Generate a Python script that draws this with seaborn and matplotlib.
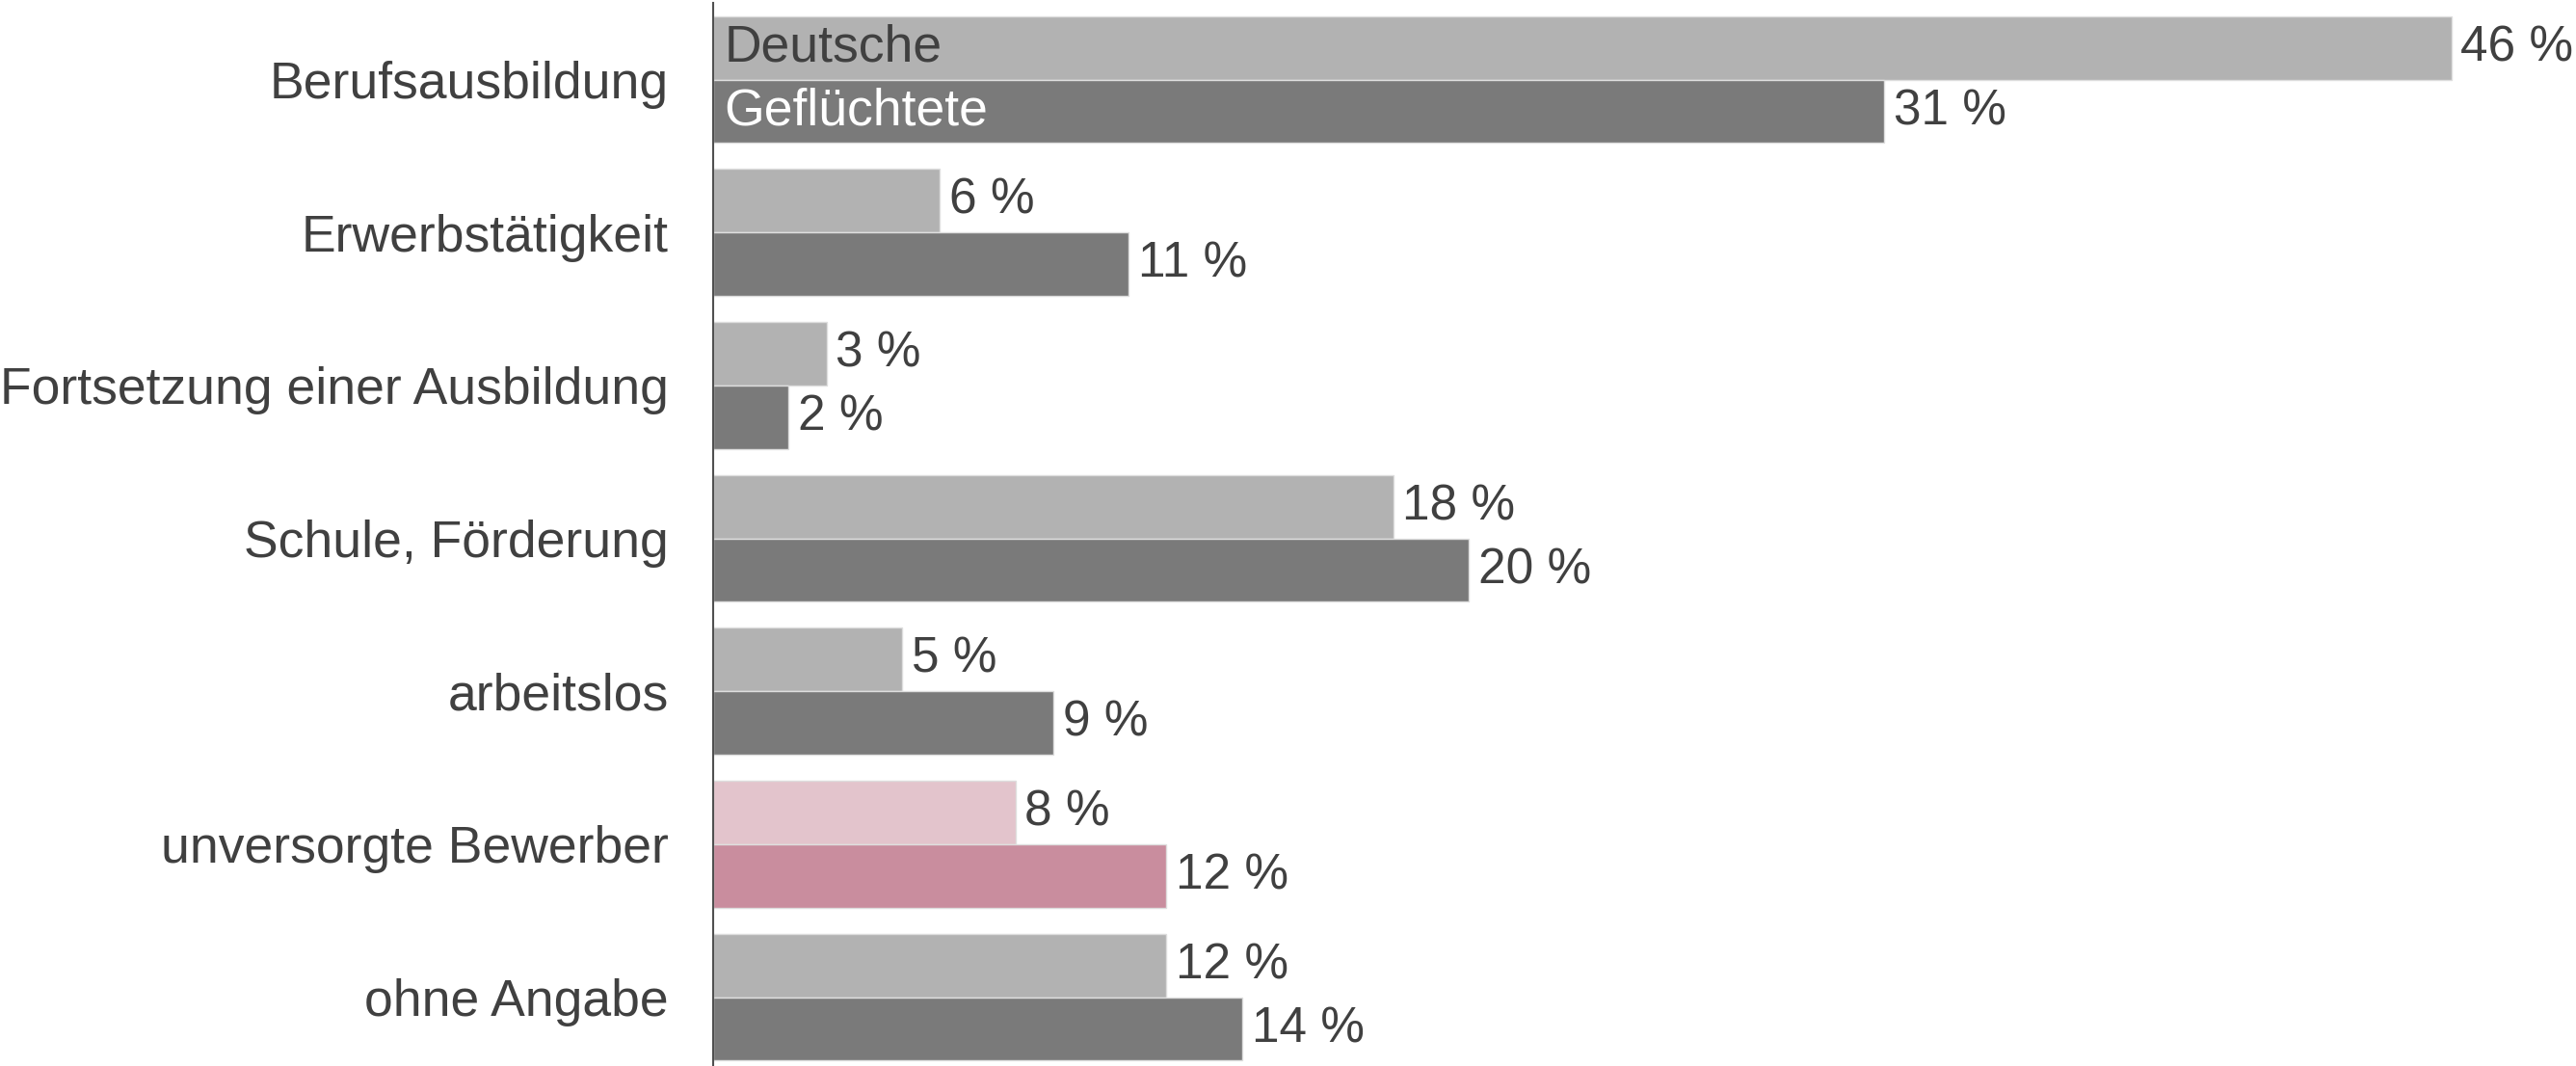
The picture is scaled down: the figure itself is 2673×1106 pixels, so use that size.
import pandas as pd
import matplotlib.pyplot as plt
import seaborn as sns

# Daten
kategorien = ['Berufsausbildung', 'Erwerbstätigkeit', 'Fortsetzung einer Ausbildung',
              'Schule, Förderung', 'arbeitslos', 'unversorgte Bewerber', 'ohne Angabe']
deutsche = [46, 6, 3, 18, 5, 8, 12]
gefluechtete = [31, 11, 2, 20, 9, 12, 14]
gruppen = ['Deutsche', 'Geflüchtete']

df = pd.DataFrame({
    'kategorie': kategorien * 2,
    'wert': deutsche + gefluechtete,
    'gruppe': [gruppen[0]] * len(kategorien) + [gruppen[1]] * len(kategorien),
})

textfarbe = '#404040'
fs = 38.5
fs_wert = 37
sns.set_theme(style='white')
plt.rcParams['font.family'] = ['Liberation Sans', 'DejaVu Sans']

fig = plt.figure(figsize=(26.73, 11.06), dpi=100)
ax = fig.add_axes([0.2768, 0.0, 0.7232, 0.997])

sns.barplot(data=df, y='kategorie', x='wert', hue='gruppe', orient='h',
            palette=['#b2b2b2', '#7a7a7a'], width=0.83, dodge=True,
            edgecolor='#dedede', linewidth=1, legend=False, ax=ax)

# unversorgte Bewerber hervorheben
idx = kategorien.index('unversorgte Bewerber')
ax.containers[0][idx].set_facecolor('#e3c4cc')
ax.containers[1][idx].set_facecolor('#c98d9e')

# Wertelabels
for cont, werte in zip(ax.containers, [deutsche, gefluechtete]):
    ax.bar_label(cont, labels=[f'{v} %' for v in werte], padding=7,
                 fontsize=fs_wert, color=textfarbe)

# Legende im ersten Balkenpaar
b0 = ax.containers[0][0]
b1 = ax.containers[1][0]
ax.text(0.3, b0.get_y() + b0.get_height() / 2, 'Deutsche', va='center', ha='left',
        fontsize=fs, color=textfarbe)
ax.text(0.3, b1.get_y() + b1.get_height() / 2, 'Geflüchtete', va='center', ha='left',
        fontsize=fs, color='white')

ax.set_xlim(0, 49.3)
ax.set_ylim(6.45, -0.5)
ax.set_xlabel('')
ax.set_ylabel('')
ax.set_xticks([])
ax.tick_params(axis='y', length=0, pad=33, labelsize=fs, labelcolor=textfarbe)

for s in ['top', 'right', 'bottom']:
    ax.spines[s].set_visible(False)
ax.spines['left'].set_color('#505050')
ax.spines['left'].set_linewidth(1.5)

plt.savefig('out.png', dpi=100)
